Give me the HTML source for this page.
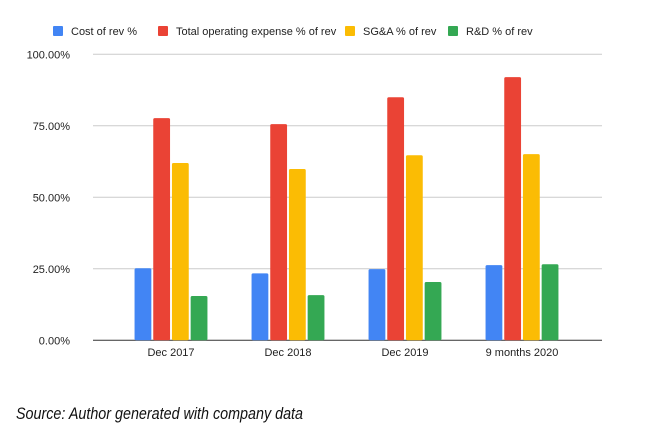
<!DOCTYPE html>
<html><head><meta charset="utf-8"><style>
body{margin:0;background:#fff;width:651px;height:430px;overflow:hidden}
svg{display:block;font-family:"Liberation Sans",Arial,sans-serif}
</style></head><body>
<svg id="chart" width="651" height="430"></svg>
<script>
const categories=["Dec 2017","Dec 2018","Dec 2019","9 months 2020"];
const seriesNames=["Cost of rev %","Total operating expense % of rev","SG&A % of rev","R&D % of rev"];
const costOfRev=[25.2,23.4,24.9,26.3];
const totalOpex=[77.7,75.6,85.0,92.0];
const sgaPct=[62.0,59.9,64.7,65.1];
const rdPct=[15.5,15.8,20.4,26.6];
const yTicks=[0,25,50,75,100];
const tickLabels=["0.00%","25.00%","50.00%","75.00%","100.00%"];
const colors=["#4285f4","#ea4335","#fbbc04","#34a853"];
const series=[costOfRev,totalOpex,sgaPct,rdPct];
const NS="http://www.w3.org/2000/svg";
const svg=document.getElementById('chart');
function mk(t,a,txt){const e=document.createElementNS(NS,t);for(const k in a)e.setAttribute(k,a[k]);if(txt!=null)e.textContent=txt;svg.appendChild(e);return e;}
const y0=340.3,yTop=54.3,xL=93,xR=602;
const y=v=>y0-(v/100)*(y0-yTop);
const catStart=112.5,catStep=117;
const xc=i=>catStart+catStep*(i+0.5);
const barW=16.8,barGap=1.9;
yTicks.forEach((t,i)=>{
  const l=mk('line',{x1:xL,x2:xR,y1:y(t),y2:y(t),stroke:t===0?'#333':'#ccc','stroke-width':1});
  
  
  const tx=mk('text',{x:70,y:y(t)+4,'text-anchor':'end','font-size':11,fill:'#222'},tickLabels[i]);
  
  
});
categories.forEach((c,i)=>{
  const gx=xc(i)-(4*barW+3*barGap)/2;
  series.forEach((s,j)=>{
    const r=mk('rect',{x:gx+j*(barW+barGap),y:y(s[i]),width:barW,height:y0-y(s[i]),fill:colors[j],rx:1.5});
    
    
  });
  const t=mk('text',{x:xc(i),y:356,'text-anchor':'middle','font-size':11,fill:'#222'},c);
  
  
});
const legX=[53,158,345,448];
seriesNames.forEach((n,j)=>{
  const r=mk('rect',{x:legX[j],y:26,width:10,height:10,fill:colors[j],rx:1});
  
  
  const t=mk('text',{x:legX[j]+18,y:35,'font-size':11,fill:'#222'},n);
  
  
});
const s=mk('text',{x:16,y:419,'font-size':17,'font-style':'italic',fill:'#111',textLength:287,lengthAdjust:'spacingAndGlyphs'},"Source: Author generated with company data");


</script>
</body></html>
